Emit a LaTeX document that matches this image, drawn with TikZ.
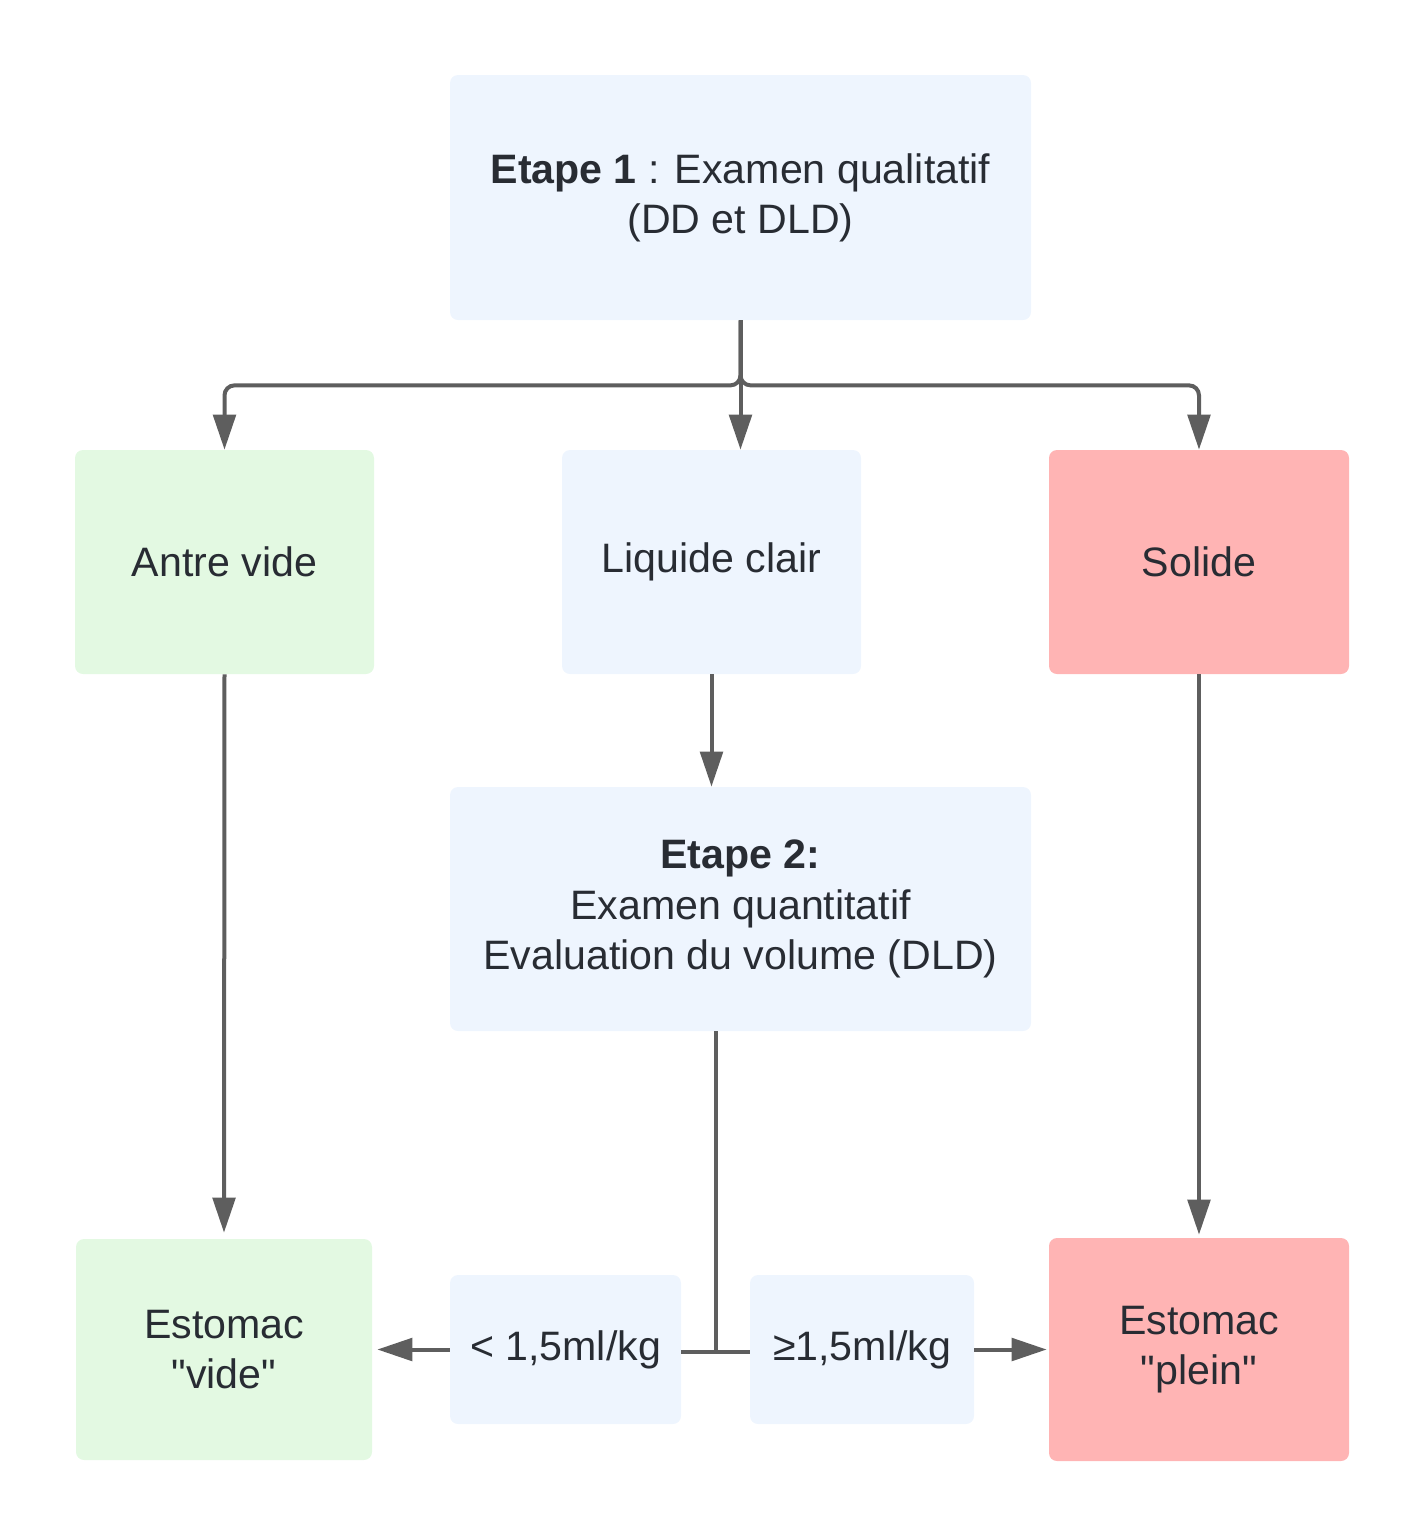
\documentclass[tikz,border=0pt]{standalone}
\usepackage{fontspec}
\setmainfont{Liberation Sans}
\usetikzlibrary{arrows.meta,calc}

\definecolor{boxblue}{HTML}{EEF5FE}
\definecolor{boxgreen}{HTML}{E3F9E2}
\definecolor{boxred}{HTML}{FFB4B4}
\definecolor{inktext}{HTML}{282C33}
\definecolor{linegray}{HTML}{5E5E5E}

\tikzset{
  box/.style={rounded corners=0.16cm, inner sep=0pt, align=center,
    text=inktext, font=\fontsize{23.4}{28.6}\selectfont},
  bluebox/.style={box, fill=boxblue},
  greenbox/.style={box, fill=boxgreen},
  redbox/.style={box, fill=boxred},
  link/.style={draw=linegray, line width=0.08cm,
    -{Triangle[length=0.7cm, width=0.45cm]}},
  bar/.style={draw=linegray, line width=0.08cm}
}

\begin{document}
\begin{tikzpicture}

\useasboundingbox (0,0) rectangle (28.5,-30.76);

% Boxes
\node[bluebox, minimum width=11.62cm, minimum height=4.9cm] (etape1) at (14.81,-3.95)
  {\textbf{Etape 1} : Examen qualitatif\\(DD et DLD)};

\node[greenbox, minimum width=5.98cm, minimum height=4.48cm] (antre) at (4.49,-11.24) {Antre vide};
\node[bluebox, minimum width=5.98cm, minimum height=4.48cm] (liquide) at (14.23,-11.24) {Liquide clair};
\node[redbox, minimum width=6cm, minimum height=4.48cm] (solide) at (23.98,-11.24) {Solide};

\node[bluebox, minimum width=11.62cm, minimum height=4.88cm] (etape2) at (14.81,-18.18)
  {\textbf{Etape 2:}\\Examen quantitatif\\Evaluation du volume (DLD)};

\node[greenbox, minimum width=5.92cm, minimum height=4.42cm] (vide) at (4.48,-26.99)
  {Estomac\\\textquotedbl vide\textquotedbl};
\node[bluebox, minimum width=4.62cm, minimum height=2.98cm] (bas) at (11.31,-26.99) {< 1,5ml/kg};
\node[bluebox, minimum width=4.48cm, minimum height=2.98cm] (haut) at (17.24,-26.99) {≥1,5ml/kg};
\node[redbox, minimum width=6cm, minimum height=4.46cm] (plein) at (23.98,-26.99)
  {Estomac\\\textquotedbl plein\textquotedbl};

% Split below step 1
\coordinate (fork) at ($(etape1.south)+(0,-1.3)$);
\draw[link, rounded corners=0.2cm] (etape1.south) -- (fork) -| (antre.north);
\draw[link, rounded corners=0.2cm] (etape1.south) -- (fork) -| (solide.north);
\draw[link] (etape1.south) -- (etape1.south |- liquide.north);

% Liquid goes to step 2
\draw[link] (liquide.south) -- (liquide.south |- etape2.north);

% Straight outcomes
\draw[link, shorten >=0.12cm] (antre.south) -- (vide.north);
\draw[link, shorten >=0.06cm] (solide.south) -- (plein.north);

% Volume threshold
\coordinate (seuil) at ($(bas.east)!0.5!(haut.west)+(0,-0.05)$);
\draw[bar] (seuil |- etape2.south) -- (seuil);
\draw[bar] (bas.east |- seuil) -- (haut.west |- seuil);
\draw[link, shorten >=0.1cm] (bas.west) -- (vide.east);
\draw[link, shorten >=0.04cm] (haut.east) -- (plein.west);

\end{tikzpicture}
\end{document}
